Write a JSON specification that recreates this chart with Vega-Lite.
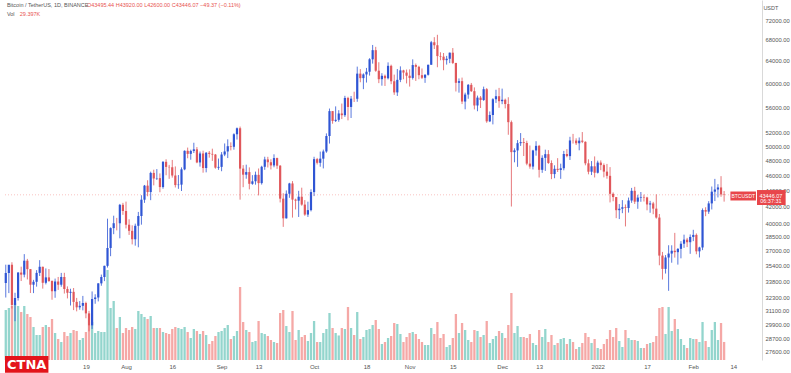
{
"$schema":"https://vega.github.io/schema/vega-lite/v6.json",
"width":762,"height":360,
"autosize":{"type":"none"},
"padding":{"left":0,"top":0,"right":29,"bottom":13},
"background":"white",
"config":{"view":{"stroke":null},"font":"Liberation Sans"},
"datasets":{
"btc":[
{"d":"2021-06-23","o":33675,"h":35500,"l":32286,"c":34663,"v":81.5},
{"d":"2021-06-24","o":34663,"h":35298,"l":32700,"c":35492,"v":84.8},
{"d":"2021-06-25","o":35492,"h":35750,"l":31275,"c":31597,"v":88.0},
{"d":"2021-06-26","o":31597,"h":32730,"l":30151,"c":32238,"v":92.9},
{"d":"2021-06-27","o":32238,"h":34749,"l":32000,"c":34700,"v":88.0},
{"d":"2021-06-28","o":34700,"h":35297,"l":33862,"c":34494,"v":78.2},
{"d":"2021-06-29","o":34494,"h":36600,"l":34225,"c":35911,"v":88.0},
{"d":"2021-06-30","o":35911,"h":36100,"l":34017,"c":35045,"v":75.0},
{"d":"2021-07-01","o":35045,"h":35057,"l":32711,"c":33504,"v":70.1},
{"d":"2021-07-02","o":33504,"h":33977,"l":32699,"c":33787,"v":53.8},
{"d":"2021-07-03","o":33787,"h":34945,"l":33316,"c":34669,"v":40.8},
{"d":"2021-07-04","o":34669,"h":35967,"l":34357,"c":35286,"v":40.8},
{"d":"2021-07-05","o":35286,"h":35293,"l":33125,"c":33690,"v":53.8},
{"d":"2021-07-06","o":33690,"h":35118,"l":33532,"c":34220,"v":57.1},
{"d":"2021-07-07","o":34220,"h":35059,"l":33777,"c":33862,"v":53.8},
{"d":"2021-07-08","o":33862,"h":33929,"l":32077,"c":32875,"v":66.8},
{"d":"2021-07-09","o":32875,"h":34100,"l":32261,"c":33815,"v":44.0},
{"d":"2021-07-10","o":33815,"h":34262,"l":33004,"c":33502,"v":34.2},
{"d":"2021-07-11","o":33502,"h":34666,"l":33306,"c":34259,"v":29.3},
{"d":"2021-07-12","o":34259,"h":34678,"l":32658,"c":33086,"v":45.6},
{"d":"2021-07-13","o":33086,"h":33340,"l":32202,"c":32729,"v":39.1},
{"d":"2021-07-14","o":32729,"h":33114,"l":31550,"c":32820,"v":44.0},
{"d":"2021-07-15","o":32820,"h":33185,"l":31133,"c":31880,"v":48.9},
{"d":"2021-07-16","o":31880,"h":32249,"l":31020,"c":31383,"v":47.3},
{"d":"2021-07-17","o":31383,"h":31955,"l":31164,"c":31520,"v":32.6},
{"d":"2021-07-18","o":31520,"h":32435,"l":31108,"c":31778,"v":35.9},
{"d":"2021-07-19","o":31778,"h":31899,"l":30407,"c":30839,"v":45.6},
{"d":"2021-07-20","o":30839,"h":31063,"l":29278,"c":29790,"v":57.1},
{"d":"2021-07-21","o":29790,"h":32858,"l":29482,"c":32144,"v":61.9},
{"d":"2021-07-22","o":32144,"h":32591,"l":31708,"c":32287,"v":44.0},
{"d":"2021-07-23","o":32287,"h":33650,"l":31925,"c":33634,"v":47.3},
{"d":"2021-07-24","o":33634,"h":34500,"l":33401,"c":34258,"v":45.6},
{"d":"2021-07-25","o":34258,"h":35398,"l":33851,"c":35381,"v":45.6},
{"d":"2021-07-26","o":35381,"h":40550,"l":35205,"c":37256,"v":146.7},
{"d":"2021-07-27","o":37256,"h":39542,"l":36383,"c":39457,"v":84.8},
{"d":"2021-07-28","o":39457,"h":40900,"l":38772,"c":40019,"v":96.2},
{"d":"2021-07-29","o":40019,"h":40640,"l":39200,"c":40016,"v":52.2},
{"d":"2021-07-30","o":40016,"h":42316,"l":38313,"c":42206,"v":70.1},
{"d":"2021-07-31","o":42206,"h":42448,"l":41000,"c":41461,"v":44.0},
{"d":"2021-08-01","o":41461,"h":42599,"l":39422,"c":39845,"v":52.2},
{"d":"2021-08-02","o":39845,"h":40480,"l":38690,"c":39147,"v":48.9},
{"d":"2021-08-03","o":39147,"h":39780,"l":37642,"c":38207,"v":53.8},
{"d":"2021-08-04","o":38207,"h":39969,"l":37508,"c":39723,"v":50.5},
{"d":"2021-08-05","o":39723,"h":41350,"l":37332,"c":40862,"v":79.9},
{"d":"2021-08-06","o":40862,"h":43392,"l":39853,"c":42836,"v":75.0},
{"d":"2021-08-07","o":42836,"h":44700,"l":42446,"c":44614,"v":70.1},
{"d":"2021-08-08","o":44614,"h":45310,"l":43261,"c":43792,"v":66.8},
{"d":"2021-08-09","o":43792,"h":46454,"l":42779,"c":46284,"v":71.7},
{"d":"2021-08-10","o":46284,"h":46718,"l":44650,"c":45543,"v":52.2},
{"d":"2021-08-11","o":45543,"h":46800,"l":45347,"c":45593,"v":52.2},
{"d":"2021-08-12","o":45593,"h":46218,"l":43770,"c":44428,"v":52.2},
{"d":"2021-08-13","o":44428,"h":47886,"l":44217,"c":47793,"v":45.6},
{"d":"2021-08-14","o":47793,"h":48144,"l":45971,"c":47096,"v":44.0},
{"d":"2021-08-15","o":47096,"h":47372,"l":45500,"c":47047,"v":42.4},
{"d":"2021-08-16","o":47047,"h":48053,"l":45660,"c":45937,"v":50.5},
{"d":"2021-08-17","o":45937,"h":47160,"l":44376,"c":44686,"v":53.8},
{"d":"2021-08-18","o":44686,"h":46000,"l":44203,"c":44741,"v":52.2},
{"d":"2021-08-19","o":44741,"h":47033,"l":43927,"c":46763,"v":50.5},
{"d":"2021-08-20","o":46763,"h":49400,"l":46644,"c":49339,"v":53.8},
{"d":"2021-08-21","o":49339,"h":49800,"l":48285,"c":48905,"v":45.6},
{"d":"2021-08-22","o":48905,"h":49500,"l":48083,"c":49321,"v":35.9},
{"d":"2021-08-23","o":49321,"h":50500,"l":49029,"c":49546,"v":50.5},
{"d":"2021-08-24","o":49546,"h":49875,"l":47600,"c":47706,"v":47.3},
{"d":"2021-08-25","o":47706,"h":49240,"l":47136,"c":48960,"v":42.4},
{"d":"2021-08-26","o":48960,"h":49358,"l":46315,"c":46942,"v":47.3},
{"d":"2021-08-27","o":46942,"h":49169,"l":46360,"c":49058,"v":40.8},
{"d":"2021-08-28","o":49058,"h":49309,"l":48370,"c":48903,"v":26.1},
{"d":"2021-08-29","o":48903,"h":49644,"l":47925,"c":48807,"v":31.0},
{"d":"2021-08-30","o":48807,"h":48888,"l":46853,"c":46991,"v":39.1},
{"d":"2021-08-31","o":46991,"h":48246,"l":46700,"c":47100,"v":45.6},
{"d":"2021-09-01","o":47100,"h":49156,"l":46512,"c":48811,"v":47.3},
{"d":"2021-09-02","o":48811,"h":50400,"l":48584,"c":49246,"v":52.2},
{"d":"2021-09-03","o":49246,"h":51000,"l":48316,"c":49999,"v":57.1},
{"d":"2021-09-04","o":49999,"h":50558,"l":49400,"c":49916,"v":34.2},
{"d":"2021-09-05","o":49916,"h":51900,"l":49499,"c":51756,"v":39.1},
{"d":"2021-09-06","o":51756,"h":52780,"l":50969,"c":52663,"v":47.3},
{"d":"2021-09-07","o":52663,"h":52920,"l":42843,"c":46863,"v":119.0},
{"d":"2021-09-08","o":46863,"h":47340,"l":44412,"c":46049,"v":61.9},
{"d":"2021-09-09","o":46049,"h":47399,"l":45514,"c":46395,"v":48.9},
{"d":"2021-09-10","o":46395,"h":47033,"l":44134,"c":44851,"v":45.6},
{"d":"2021-09-11","o":44851,"h":45987,"l":44722,"c":45173,"v":29.3},
{"d":"2021-09-12","o":45173,"h":46460,"l":44742,"c":46025,"v":31.0},
{"d":"2021-09-13","o":46025,"h":46880,"l":43370,"c":44941,"v":63.6},
{"d":"2021-09-14","o":44941,"h":47250,"l":44750,"c":47112,"v":44.0},
{"d":"2021-09-15","o":47112,"h":48500,"l":46700,"c":48121,"v":42.4},
{"d":"2021-09-16","o":48121,"h":48489,"l":47015,"c":47737,"v":39.1},
{"d":"2021-09-17","o":47737,"h":48150,"l":46750,"c":47300,"v":32.6},
{"d":"2021-09-18","o":47300,"h":48843,"l":47044,"c":48314,"v":29.3},
{"d":"2021-09-19","o":48314,"h":48372,"l":46829,"c":47261,"v":27.7},
{"d":"2021-09-20","o":47261,"h":47341,"l":42500,"c":42967,"v":76.6},
{"d":"2021-09-21","o":42967,"h":43639,"l":39600,"c":40588,"v":81.5},
{"d":"2021-09-22","o":40588,"h":44000,"l":40565,"c":43578,"v":55.4},
{"d":"2021-09-23","o":43578,"h":44978,"l":43069,"c":44896,"v":45.6},
{"d":"2021-09-24","o":44896,"h":45200,"l":40675,"c":42848,"v":79.9},
{"d":"2021-09-25","o":42848,"h":42966,"l":41646,"c":42716,"v":32.6},
{"d":"2021-09-26","o":42716,"h":43950,"l":40750,"c":43208,"v":48.9},
{"d":"2021-09-27","o":43208,"h":44350,"l":42098,"c":42235,"v":37.5},
{"d":"2021-09-28","o":42235,"h":42787,"l":40888,"c":41034,"v":40.8},
{"d":"2021-09-29","o":41034,"h":42590,"l":40753,"c":41564,"v":31.0},
{"d":"2021-09-30","o":41564,"h":44141,"l":41410,"c":43790,"v":44.0},
{"d":"2021-10-01","o":43790,"h":48495,"l":43283,"c":48165,"v":63.6},
{"d":"2021-10-02","o":48165,"h":48336,"l":47430,"c":47657,"v":29.3},
{"d":"2021-10-03","o":47657,"h":49229,"l":47120,"c":48233,"v":29.3},
{"d":"2021-10-04","o":48233,"h":49509,"l":46891,"c":49245,"v":44.0},
{"d":"2021-10-05","o":49245,"h":51886,"l":49057,"c":51493,"v":50.5},
{"d":"2021-10-06","o":51493,"h":55750,"l":50382,"c":55339,"v":76.6},
{"d":"2021-10-07","o":55339,"h":55339,"l":53357,"c":53797,"v":52.2},
{"d":"2021-10-08","o":53797,"h":56100,"l":53617,"c":53963,"v":44.0},
{"d":"2021-10-09","o":53963,"h":55489,"l":53661,"c":54962,"v":40.0},
{"d":"2021-10-10","o":54962,"h":56561,"l":54080,"c":54690,"v":52.2},
{"d":"2021-10-11","o":54690,"h":57839,"l":54415,"c":57484,"v":50.5},
{"d":"2021-10-12","o":57484,"h":57680,"l":53879,"c":56006,"v":86.4},
{"d":"2021-10-13","o":56006,"h":57811,"l":54250,"c":57367,"v":52.2},
{"d":"2021-10-14","o":57367,"h":58532,"l":56818,"c":57347,"v":40.8},
{"d":"2021-10-15","o":57347,"h":62933,"l":56850,"c":61672,"v":78.2},
{"d":"2021-10-16","o":61672,"h":62480,"l":60150,"c":60875,"v":34.2},
{"d":"2021-10-17","o":60875,"h":61720,"l":58963,"c":61528,"v":37.5},
{"d":"2021-10-18","o":61528,"h":62695,"l":60101,"c":62010,"v":48.9},
{"d":"2021-10-19","o":62010,"h":64486,"l":61322,"c":64280,"v":50.5},
{"d":"2021-10-20","o":64280,"h":67000,"l":63481,"c":66001,"v":57.1},
{"d":"2021-10-21","o":66001,"h":66639,"l":62000,"c":62193,"v":65.2},
{"d":"2021-10-22","o":62193,"h":63732,"l":60000,"c":60688,"v":50.5},
{"d":"2021-10-23","o":60688,"h":61747,"l":59562,"c":61287,"v":26.1},
{"d":"2021-10-24","o":61287,"h":61500,"l":59510,"c":60852,"v":29.3},
{"d":"2021-10-25","o":60852,"h":63710,"l":60650,"c":63078,"v":35.9},
{"d":"2021-10-26","o":63078,"h":63293,"l":59817,"c":60328,"v":39.1},
{"d":"2021-10-27","o":60328,"h":61496,"l":58000,"c":58413,"v":60.3},
{"d":"2021-10-28","o":58413,"h":62499,"l":57820,"c":60575,"v":58.7},
{"d":"2021-10-29","o":60575,"h":62980,"l":60175,"c":62253,"v":42.4},
{"d":"2021-10-30","o":62253,"h":62359,"l":60673,"c":61859,"v":29.3},
{"d":"2021-10-31","o":61859,"h":62405,"l":59945,"c":61299,"v":37.5},
{"d":"2021-11-01","o":61299,"h":62437,"l":59405,"c":60911,"v":44.0},
{"d":"2021-11-02","o":60911,"h":64270,"l":60624,"c":63219,"v":45.6},
{"d":"2021-11-03","o":63219,"h":63500,"l":60382,"c":62896,"v":42.4},
{"d":"2021-11-04","o":62896,"h":63086,"l":60677,"c":61395,"v":34.2},
{"d":"2021-11-05","o":61395,"h":62595,"l":60721,"c":60937,"v":29.3},
{"d":"2021-11-06","o":60937,"h":61560,"l":60050,"c":61470,"v":24.5},
{"d":"2021-11-07","o":61470,"h":63286,"l":61322,"c":63273,"v":24.5},
{"d":"2021-11-08","o":63273,"h":67789,"l":63273,"c":67525,"v":52.2},
{"d":"2021-11-09","o":67525,"h":68524,"l":66222,"c":66947,"v":42.4},
{"d":"2021-11-10","o":66947,"h":69000,"l":62822,"c":64882,"v":61.9},
{"d":"2021-11-11","o":64882,"h":65600,"l":64100,"c":64774,"v":35.9},
{"d":"2021-11-12","o":64774,"h":65460,"l":62278,"c":64122,"v":42.4},
{"d":"2021-11-13","o":64122,"h":64916,"l":63303,"c":64380,"v":21.2},
{"d":"2021-11-14","o":64380,"h":65550,"l":63576,"c":65519,"v":24.5},
{"d":"2021-11-15","o":65519,"h":66401,"l":63400,"c":63606,"v":35.9},
{"d":"2021-11-16","o":63606,"h":63617,"l":58574,"c":60058,"v":75.0},
{"d":"2021-11-17","o":60058,"h":60823,"l":58373,"c":60345,"v":44.0},
{"d":"2021-11-18","o":60345,"h":60967,"l":56474,"c":56891,"v":60.3},
{"d":"2021-11-19","o":56891,"h":58366,"l":55625,"c":58052,"v":48.9},
{"d":"2021-11-20","o":58052,"h":59845,"l":57353,"c":59707,"v":32.6},
{"d":"2021-11-21","o":59707,"h":60029,"l":58486,"c":58622,"v":29.3},
{"d":"2021-11-22","o":58622,"h":59266,"l":55610,"c":56247,"v":48.9},
{"d":"2021-11-23","o":56247,"h":57875,"l":55317,"c":57541,"v":47.3},
{"d":"2021-11-24","o":57541,"h":57803,"l":55838,"c":57138,"v":37.5},
{"d":"2021-11-25","o":57138,"h":59398,"l":57000,"c":58960,"v":40.8},
{"d":"2021-11-26","o":58960,"h":59150,"l":53500,"c":53727,"v":63.6},
{"d":"2021-11-27","o":53727,"h":55280,"l":53611,"c":54722,"v":27.7},
{"d":"2021-11-28","o":54722,"h":57445,"l":53256,"c":57274,"v":34.2},
{"d":"2021-11-29","o":57274,"h":58865,"l":56666,"c":57776,"v":39.1},
{"d":"2021-11-30","o":57776,"h":59176,"l":55875,"c":56950,"v":47.3},
{"d":"2021-12-01","o":56950,"h":59053,"l":56458,"c":57184,"v":44.0},
{"d":"2021-12-02","o":57184,"h":57375,"l":55777,"c":56480,"v":35.9},
{"d":"2021-12-03","o":56480,"h":57600,"l":51680,"c":53601,"v":57.1},
{"d":"2021-12-04","o":53601,"h":53859,"l":42000,"c":49152,"v":109.2},
{"d":"2021-12-05","o":49152,"h":49699,"l":47727,"c":49396,"v":44.0},
{"d":"2021-12-06","o":49396,"h":50891,"l":47100,"c":50441,"v":55.4},
{"d":"2021-12-07","o":50441,"h":51936,"l":50039,"c":50588,"v":37.5},
{"d":"2021-12-08","o":50588,"h":51200,"l":48600,"c":50471,"v":37.5},
{"d":"2021-12-09","o":50471,"h":50797,"l":47320,"c":47545,"v":35.9},
{"d":"2021-12-10","o":47545,"h":50099,"l":46852,"c":47140,"v":42.4},
{"d":"2021-12-11","o":47140,"h":49485,"l":46751,"c":49389,"v":27.7},
{"d":"2021-12-12","o":49389,"h":50724,"l":48650,"c":50053,"v":24.5},
{"d":"2021-12-13","o":50053,"h":50189,"l":45672,"c":46702,"v":48.9},
{"d":"2021-12-14","o":46702,"h":48700,"l":46290,"c":48343,"v":37.5},
{"d":"2021-12-15","o":48343,"h":49500,"l":46547,"c":48864,"v":50.5},
{"d":"2021-12-16","o":48864,"h":49436,"l":47511,"c":47632,"v":29.3},
{"d":"2021-12-17","o":47632,"h":47995,"l":45456,"c":46131,"v":40.8},
{"d":"2021-12-18","o":46131,"h":47315,"l":45578,"c":46834,"v":24.5},
{"d":"2021-12-19","o":46834,"h":48300,"l":46406,"c":46681,"v":27.7},
{"d":"2021-12-20","o":46681,"h":47537,"l":45500,"c":46914,"v":34.2},
{"d":"2021-12-21","o":46914,"h":49328,"l":46630,"c":48889,"v":35.9},
{"d":"2021-12-22","o":48889,"h":49576,"l":48421,"c":48588,"v":26.1},
{"d":"2021-12-23","o":48588,"h":51375,"l":48049,"c":50838,"v":34.2},
{"d":"2021-12-24","o":50838,"h":51810,"l":50384,"c":50821,"v":29.3},
{"d":"2021-12-25","o":50821,"h":51156,"l":50171,"c":50429,"v":17.9},
{"d":"2021-12-26","o":50429,"h":51280,"l":49412,"c":50809,"v":21.2},
{"d":"2021-12-27","o":50809,"h":52088,"l":50449,"c":50640,"v":27.7},
{"d":"2021-12-28","o":50640,"h":50704,"l":47313,"c":47588,"v":44.0},
{"d":"2021-12-29","o":47588,"h":48139,"l":46096,"c":46444,"v":37.5},
{"d":"2021-12-30","o":46444,"h":47900,"l":46000,"c":47178,"v":27.7},
{"d":"2021-12-31","o":47178,"h":48548,"l":45678,"c":46306,"v":34.2},
{"d":"2022-01-01","o":46306,"h":47954,"l":46208,"c":47686,"v":19.6},
{"d":"2022-01-02","o":47686,"h":47990,"l":46654,"c":47345,"v":17.9},
{"d":"2022-01-03","o":47345,"h":47570,"l":45696,"c":46458,"v":26.1},
{"d":"2022-01-04","o":46458,"h":47505,"l":45516,"c":45897,"v":34.2},
{"d":"2022-01-05","o":45897,"h":47070,"l":42500,"c":43569,"v":48.9},
{"d":"2022-01-06","o":43569,"h":43748,"l":42645,"c":43160,"v":37.5},
{"d":"2022-01-07","o":43160,"h":43175,"l":40610,"c":41557,"v":52.2},
{"d":"2022-01-08","o":41557,"h":42300,"l":40501,"c":41733,"v":31.0},
{"d":"2022-01-09","o":41733,"h":42786,"l":41200,"c":41911,"v":21.2},
{"d":"2022-01-10","o":41911,"h":42248,"l":39650,"c":41821,"v":48.9},
{"d":"2022-01-11","o":41821,"h":43100,"l":41268,"c":42735,"v":35.9},
{"d":"2022-01-12","o":42735,"h":44322,"l":42450,"c":43949,"v":32.6},
{"d":"2022-01-13","o":43949,"h":44459,"l":42311,"c":42591,"v":32.6},
{"d":"2022-01-14","o":42591,"h":43459,"l":41725,"c":43099,"v":31.0},
{"d":"2022-01-15","o":43099,"h":43800,"l":42578,"c":43177,"v":19.6},
{"d":"2022-01-16","o":43177,"h":43478,"l":42613,"c":43113,"v":19.6},
{"d":"2022-01-17","o":43113,"h":43201,"l":41542,"c":42250,"v":26.1},
{"d":"2022-01-18","o":42250,"h":42691,"l":41250,"c":42375,"v":27.7},
{"d":"2022-01-19","o":42375,"h":42569,"l":41075,"c":41744,"v":29.3},
{"d":"2022-01-20","o":41744,"h":43505,"l":40553,"c":40681,"v":39.1},
{"d":"2022-01-21","o":40681,"h":41100,"l":35440,"c":36445,"v":84.8},
{"d":"2022-01-22","o":36445,"h":36835,"l":34008,"c":35071,"v":86.4},
{"d":"2022-01-23","o":35071,"h":36499,"l":34601,"c":36244,"v":42.4},
{"d":"2022-01-24","o":36244,"h":37550,"l":32917,"c":36660,"v":86.4},
{"d":"2022-01-25","o":36660,"h":37545,"l":35701,"c":36958,"v":47.3},
{"d":"2022-01-26","o":36958,"h":38919,"l":36234,"c":36809,"v":66.8},
{"d":"2022-01-27","o":36809,"h":37234,"l":35507,"c":37160,"v":50.5},
{"d":"2022-01-28","o":37160,"h":38000,"l":36155,"c":37716,"v":34.2},
{"d":"2022-01-29","o":37716,"h":38720,"l":37268,"c":38166,"v":24.5},
{"d":"2022-01-30","o":38166,"h":38359,"l":37351,"c":37881,"v":19.6},
{"d":"2022-01-31","o":37881,"h":38744,"l":36633,"c":38466,"v":35.9},
{"d":"2022-02-01","o":38466,"h":39265,"l":38000,"c":38690,"v":34.2},
{"d":"2022-02-02","o":38690,"h":38855,"l":36586,"c":36896,"v":34.2},
{"d":"2022-02-03","o":36896,"h":37387,"l":36250,"c":37311,"v":29.3},
{"d":"2022-02-04","o":37311,"h":41772,"l":37026,"c":41575,"v":61.9},
{"d":"2022-02-05","o":41575,"h":41913,"l":40843,"c":41382,"v":31.0},
{"d":"2022-02-06","o":41382,"h":42656,"l":41116,"c":42380,"v":21.2},
{"d":"2022-02-07","o":42380,"h":44500,"l":41645,"c":43840,"v":48.9},
{"d":"2022-02-08","o":43840,"h":45492,"l":42666,"c":44118,"v":61.9},
{"d":"2022-02-09","o":44118,"h":44799,"l":43117,"c":44381,"v":32.6},
{"d":"2022-02-10","o":44381,"h":45855,"l":43202,"c":43495,"v":60.3},
{"d":"2022-02-11","o":43495.44,"h":43920,"l":42600,"c":43446.07,"v":29.397}
]},
"data":{"name":"btc"},
"encoding":{
 "x":{"field":"d","type":"temporal",
  "scale":{"type":"utc","domain":[{"year":2021,"month":6,"date":22,"hours":18,"utc":true},{"year":2022,"month":2,"date":21,"hours":16,"utc":true}]},
  "axis":{"values":[
   {"year":2021,"month":7,"date":19,"utc":true},{"year":2021,"month":8,"date":1,"utc":true},{"year":2021,"month":8,"date":16,"utc":true},
   {"year":2021,"month":9,"date":1,"utc":true},{"year":2021,"month":9,"date":13,"utc":true},{"year":2021,"month":10,"date":1,"utc":true},
   {"year":2021,"month":10,"date":18,"utc":true},{"year":2021,"month":11,"date":1,"utc":true},{"year":2021,"month":11,"date":15,"utc":true},
   {"year":2021,"month":12,"date":1,"utc":true},{"year":2021,"month":12,"date":13,"utc":true},{"year":2022,"month":1,"date":1,"utc":true},
   {"year":2022,"month":1,"date":17,"utc":true},{"year":2022,"month":2,"date":1,"utc":true},{"year":2022,"month":2,"date":14,"utc":true}],
   "labelExpr":"utcdate(datum.value)==1 ? (utcmonth(datum.value)==0 ? utcFormat(datum.value,'%Y') : utcFormat(datum.value,'%b')) : utcFormat(datum.value,'%-d')",
   "title":null,"grid":false,"ticks":false,"domain":false,"labelPadding":3,"labelFontSize":6,"labelColor":"#555","labelFont":"Liberation Sans","labelFlush":false,"labelOverlap":false}}
},
"resolve":{"scale":{"y":"independent"}},
"layer":[
 {"mark":{"type":"bar","width":2.3},
  "encoding":{
   "y":{"field":"v","type":"quantitative","scale":{"domain":[0,586.8],"nice":false},"axis":null},
   "color":{"condition":{"test":"datum.c >= datum.o","value":"#93d5cd"},"value":"#f5a8a6"}}},
 {"encoding":{
   "y":{"field":"l","type":"quantitative","scale":{"type":"log","domain":[26950,76300],"nice":false},
     "axis":{"orient":"right","title":null,"grid":false,"ticks":false,"domain":true,"domainColor":"#d9d9d9","domainWidth":1,"labelPadding":3,"labelFontSize":5.8,"labelColor":"#555","labelFont":"Liberation Sans","format":".2f",
      "values":[72000,68000,64000,60000,56000,52000,50000,48000,46000,44000,42000,40000,38500,37000,35400,33800,32300,31100,29900,28700,27600]}}},
  "layer":[
   {"mark":{"type":"rule","strokeWidth":0.8},
    "encoding":{"y2":{"field":"h"},
     "color":{"condition":{"test":"datum.c >= datum.o","value":"#2f55d4"},"value":"#e0575b"}}},
   {"mark":{"type":"bar","width":2.2},
    "encoding":{"y":{"field":"o","type":"quantitative"},"y2":{"field":"c"},
     "color":{"condition":{"test":"datum.c >= datum.o","value":"#2f55d4"},"value":"#e0575b"}}},
   {"transform":[{"filter":"datum.v == 29.397"}],
    "layer":[
     {"mark":{"type":"rule","strokeWidth":0.6,"strokeDash":[1,2],"color":"#ef5350","opacity":0.6},
      "encoding":{"y":{"datum":43446.07},"x":{"datum":{"year":2021,"month":6,"date":22,"hours":18,"utc":true},"type":"temporal"},"x2":{"datum":{"year":2022,"month":2,"date":21,"hours":16,"utc":true}}}},
     {"mark":{"type":"text","align":"left","baseline":"middle","fontSize":5.5,"color":"#555","font":"Liberation Sans"},
      "encoding":{"x":{"datum":{"year":2021,"month":6,"date":23,"hours":9,"utc":true},"type":"temporal"},"y":{"datum":75190},"text":{"value":"Bitcoin / TetherUS, 1D, BINANCE"}}},
     {"mark":{"type":"text","align":"left","baseline":"middle","fontSize":5.5,"color":"#e8534f","font":"Liberation Sans"},
      "encoding":{"x":{"datum":{"year":2021,"month":7,"date":19,"hours":8,"utc":true},"type":"temporal"},"y":{"datum":75190},"text":{"value":"O43495.44  H43920.00  L42600.00  C43446.07  −49.37 (−0.11%)"}}},
     {"mark":{"type":"text","align":"left","baseline":"middle","fontSize":5.5,"color":"#555","font":"Liberation Sans"},
      "encoding":{"x":{"datum":{"year":2021,"month":6,"date":23,"hours":9,"utc":true},"type":"temporal"},"y":{"datum":73259},"text":{"value":"Vol"}}},
     {"mark":{"type":"text","align":"left","baseline":"middle","fontSize":5.5,"color":"#e8534f","font":"Liberation Sans"},
      "encoding":{"x":{"datum":{"year":2021,"month":6,"date":27,"hours":13,"utc":true},"type":"temporal"},"y":{"datum":73259},"text":{"value":"29.397K"}}},
     {"mark":{"type":"text","align":"center","baseline":"middle","fontSize":5.5,"color":"#555","font":"Liberation Sans"},
      "encoding":{"x":{"datum":{"year":2022,"month":2,"date":26,"hours":4,"utc":true},"type":"temporal"},"y":{"datum":74541},"text":{"value":"USDT"}}},
     {"mark":{"type":"rect","color":"#e8464a"},
      "encoding":{"x":{"datum":{"year":2022,"month":2,"date":13,"hours":1,"utc":true},"type":"temporal"},"x2":{"datum":{"year":2022,"month":2,"date":21,"hours":8,"utc":true}},"y":{"datum":43862},"y2":{"datum":42739}}},
     {"mark":{"type":"text","align":"center","baseline":"middle","fontSize":5,"color":"white","font":"Liberation Sans"},
      "encoding":{"x":{"datum":{"year":2022,"month":2,"date":17,"hours":5,"utc":true},"type":"temporal"},"y":{"datum":43294},"text":{"value":"BTCUSDT"}}},
     {"mark":{"type":"rect","color":"#e8464a"},
      "encoding":{"x":{"datum":{"year":2022,"month":2,"date":21,"hours":16,"utc":true},"type":"temporal"},"x2":{"datum":{"year":2022,"month":3,"date":2,"hours":23,"utc":true}},"y":{"datum":44050},"y2":{"datum":42185}}},
     {"mark":{"type":"text","align":"center","baseline":"middle","fontSize":5.5,"color":"white","font":"Liberation Sans"},
      "encoding":{"x":{"datum":{"year":2022,"month":2,"date":26,"hours":4,"utc":true},"type":"temporal"},"y":{"datum":43358},"text":{"value":"43446.07"}}},
     {"mark":{"type":"text","align":"center","baseline":"middle","fontSize":5.5,"color":"white","font":"Liberation Sans"},
      "encoding":{"x":{"datum":{"year":2022,"month":2,"date":26,"hours":4,"utc":true},"type":"temporal"},"y":{"datum":42617},"text":{"value":"06:37:31"}}},
     {"mark":{"type":"rect","color":"#e3141b"},
      "encoding":{"x":{"datum":{"year":2021,"month":6,"date":22,"hours":18,"utc":true},"type":"temporal"},"x2":{"datum":{"year":2021,"month":7,"date":6,"hours":20,"utc":true}},"y":{"datum":27266},"y2":{"datum":25970}}},
     {"mark":{"type":"text","align":"center","baseline":"middle","fontSize":13,"fontWeight":"bold","color":"white","font":"DejaVu Sans"},
      "encoding":{"x":{"datum":{"year":2021,"month":6,"date":29,"hours":19,"utc":true},"type":"temporal"},"y":{"datum":26597},"text":{"value":"CTNA"}}}
    ]}
  ]}
]
}
